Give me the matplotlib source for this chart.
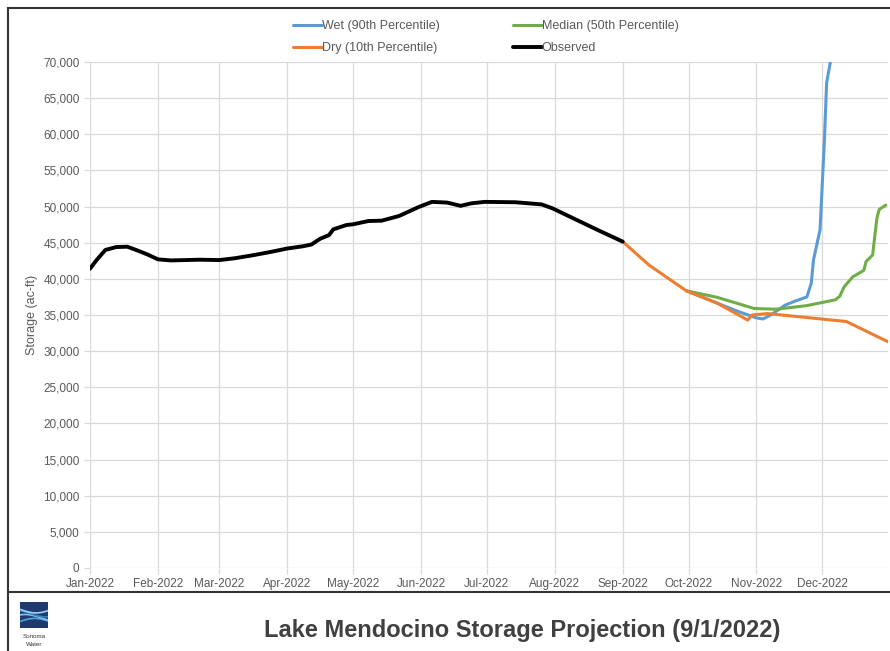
import matplotlib
matplotlib.use("Agg")
import matplotlib.pyplot as plt
import matplotlib.dates as mdates
import numpy as np
import pandas as pd
from matplotlib.patches import Rectangle

plt.rcParams['font.family'] = ['Liberation Sans', 'DejaVu Sans']

# Observed storage (ac-ft)
obs_dates = ["2022-01-01", "2022-01-04", "2022-01-08", "2022-01-13", "2022-01-18",
             "2022-01-22", "2022-01-27", "2022-02-01", "2022-02-07", "2022-02-20",
             "2022-03-01", "2022-03-08", "2022-03-16", "2022-03-24", "2022-04-01",
             "2022-04-08", "2022-04-12", "2022-04-16", "2022-04-20", "2022-04-22",
             "2022-04-28", "2022-05-01", "2022-05-08", "2022-05-14", "2022-05-22",
             "2022-05-31", "2022-06-06", "2022-06-13", "2022-06-19", "2022-06-24",
             "2022-06-30", "2022-07-14", "2022-07-26", "2022-07-31", "2022-08-11",
             "2022-08-21", "2022-09-01"]
obs_vals = [41400, 42600, 44000, 44400, 44450,
            44000, 43400, 42700, 42550, 42650,
            42600, 42850, 43250, 43700, 44200,
            44500, 44750, 45550, 46050, 46850,
            47450, 47550, 48000, 48050, 48700,
            49950, 50650, 50550, 50100, 50450,
            50650, 50600, 50300, 49750, 48150,
            46700, 45150]

# Dry (10th percentile)
dry_dates = ["2022-09-01", "2022-09-13", "2022-09-30", "2022-10-14", "2022-10-28",
             "2022-10-30", "2022-11-06", "2022-11-24", "2022-12-12", "2022-12-31"]
dry_vals = [45150, 41900, 38350, 36650, 34300,
            35000, 35200, 34650, 34100, 31300]

# Median (50th percentile)
med_dates = ["2022-09-30", "2022-10-14", "2022-10-31", "2022-11-10", "2022-11-24",
             "2022-12-07", "2022-12-09", "2022-12-11", "2022-12-15", "2022-12-19",
             "2022-12-20", "2022-12-21", "2022-12-24", "2022-12-25", "2022-12-26",
             "2022-12-27", "2022-12-30"]
med_vals = [38350, 37450, 35900, 35800, 36300,
            37100, 37600, 38900, 40300, 41000,
            41200, 42400, 43300, 46000, 48500,
            49600, 50200]

# Wet (90th percentile)
wet_dates = ["2022-09-30", "2022-10-14", "2022-10-24", "2022-11-01", "2022-11-04",
             "2022-11-08", "2022-11-14", "2022-11-18", "2022-11-24", "2022-11-26",
             "2022-11-27", "2022-11-30", "2022-12-02", "2022-12-03", "2022-12-05"]
wet_vals = [38350, 36650, 35450, 34600, 34450,
            35100, 36350, 36850, 37500, 39400,
            42600, 46800, 59200, 67100, 70500]

month_ticks = pd.date_range("2022-01-01", "2022-12-01", freq="MS")

fig = plt.figure(figsize=(8.9, 6.51), dpi=100)
ax = fig.add_axes([90 / 890, 83 / 651, 798 / 890, 506 / 651])

ax.plot(pd.to_datetime(wet_dates), wet_vals, color="#5B9BD5", lw=2.2,
        label="Wet (90th Percentile)", solid_capstyle="round")
ax.plot(pd.to_datetime(dry_dates), dry_vals, color="#ED7D31", lw=2.2,
        label="Dry (10th Percentile)", solid_capstyle="round", zorder=4)
ax.plot(pd.to_datetime(med_dates), med_vals, color="#70AD47", lw=2.2,
        label="Median (50th Percentile)", solid_capstyle="round", zorder=3)
ax.plot(pd.to_datetime(obs_dates), obs_vals, color="black", lw=2.8,
        label="Observed", solid_capstyle="round", zorder=5)

ax.set_xlim(pd.Timestamp("2022-01-01"), pd.Timestamp("2022-12-31"))
ax.set_ylim(0, 70000)
ax.set_xticks(month_ticks)
ax.xaxis.set_major_formatter(mdates.DateFormatter("%b-%Y"))
ax.set_yticks(np.arange(0, 70001, 5000))
ax.yaxis.set_major_formatter(matplotlib.ticker.FuncFormatter(lambda v, p: f"{int(v):,}"))

ax.grid(True, color="#D9D9D9", lw=0.9)
ax.set_axisbelow(True)
for s in ax.spines.values():
    s.set_visible(False)
ax.tick_params(axis="both", colors="#D9D9D9", labelcolor="#595959",
               labelsize=8.5, length=4, width=0.9, direction="out")
ax.set_ylabel("Storage (ac-ft)", color="#595959", fontsize=9, labelpad=4)

# legend
handles, labels = ax.get_legend_handles_labels()
fig.legend(handles, labels,
           loc="upper center", bbox_to_anchor=(486 / 890, 1 - 9 / 651), ncol=2,
           frameon=False, fontsize=9, handlelength=2.3, handletextpad=0.0,
           columnspacing=5.85, labelspacing=0.77, labelcolor="#595959")

# frame lines
fig.add_artist(plt.Line2D([8 / 890, 1], [1 - 8 / 651, 1 - 8 / 651], color="#333333", lw=1.5))
fig.add_artist(plt.Line2D([8 / 890, 8 / 890], [0, 1 - 8 / 651], color="#333333", lw=1.5))
fig.add_artist(plt.Line2D([8 / 890, 1], [1 - 592 / 651, 1 - 592 / 651], color="#333333", lw=1.5))

# logo
logo = fig.add_axes([20 / 890, 1 - 628 / 651, 28 / 890, 26 / 651])
logo.add_patch(Rectangle((0, 0), 1, 1, color="#1F3A6E"))
xx = np.linspace(0, 1, 50)
for k, c in enumerate(["#4FA3D9", "#7FC4EA", "#3C7DBF", "#9AD3F0"]):
    logo.plot(xx, 0.25 + 0.15 * k + 0.12 * np.sin(3 * xx + k), color=c, lw=1.2)
logo.set_xlim(0, 1)
logo.set_ylim(0, 1)
logo.axis("off")
fig.text(34 / 890, 1 - 636 / 651, "Sonoma", fontsize=4.5, ha="center", va="center", color="#333333")
fig.text(34 / 890, 1 - 645 / 651, "Water", fontsize=4.5, ha="center", va="center", color="#333333")

fig.text(522 / 890, 1 - 630 / 651, "Lake Mendocino Storage Projection (9/1/2022)",
         family=["Liberation Sans Narrow", "Liberation Sans", "DejaVu Sans"],
         fontsize=17, fontweight="bold", ha="center", va="center", color="#404040")

fig.savefig("out.png", dpi=100)
